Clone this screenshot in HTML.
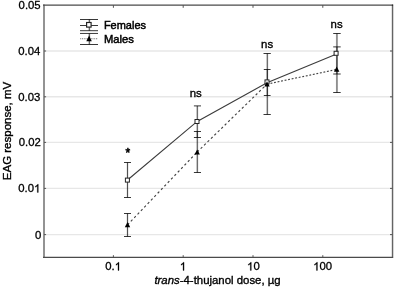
<!DOCTYPE html>
<html>
<head>
<meta charset="utf-8">
<title>EAG response chart</title>
<style>
html,body{margin:0;padding:0;background:#fff;}
body{width:394px;height:288px;overflow:hidden;}
svg{display:block;filter:grayscale(1);}
text{font-family:"Liberation Sans",sans-serif;font-size:11.35px;fill:#000;stroke:#000;stroke-width:0.35px;}
.ns{font-size:11.4px;}
.tk text{stroke-width:0.3px;}
</style>
</head>
<body>
<svg width="394" height="288" viewBox="0 0 394 288">
<defs><path id="one" d="M759 0H579V1147C536 1106 479 1065 409 1024C339 983 276 952 220 932V1106C320 1153 408 1210 483 1277C558 1344 611 1409 642 1472H759Z"/></defs>
<rect x="0" y="0" width="394" height="288" fill="#fff"/>
<!-- gridlines -->
<g stroke="#e7e7e7" stroke-width="1.4" fill="none">
<line x1="45" y1="51" x2="392" y2="51"/>
<line x1="45" y1="96.8" x2="392" y2="96.8"/>
<line x1="45" y1="142.4" x2="392" y2="142.4"/>
<line x1="45" y1="188.4" x2="392" y2="188.4"/>
<line x1="45" y1="234.6" x2="392" y2="234.6"/>
</g>
<!-- frame -->
<g stroke="#4a4a4a" fill="none">
<line x1="44" y1="4.5" x2="44" y2="257.5" stroke="#939393" stroke-width="2"/>
<line x1="43" y1="5.1" x2="393.1" y2="5.1" stroke-width="1.3"/>
<line x1="392.55" y1="4.5" x2="392.55" y2="257.8" stroke="#000" stroke-opacity="0.18" stroke-width="2.4"/><line x1="392.55" y1="4.5" x2="392.55" y2="257.8" stroke="#000" stroke-opacity="0.55" stroke-width="1"/>
<line x1="43" y1="257.35" x2="393.1" y2="257.35" stroke-width="1.3"/>
</g>
<!-- ticks -->
<g stroke="#555" stroke-width="1" fill="none">
<line x1="113.4" y1="5" x2="113.4" y2="7.8"/>
<line x1="183.2" y1="5" x2="183.2" y2="7.8"/>
<line x1="253" y1="5" x2="253" y2="7.8"/>
<line x1="322.8" y1="5" x2="322.8" y2="7.8"/>
<line x1="113.4" y1="257" x2="113.4" y2="255.2"/>
<line x1="183.2" y1="257" x2="183.2" y2="255.2"/>
<line x1="253" y1="257" x2="253" y2="255.2"/>
<line x1="322.8" y1="257" x2="322.8" y2="255.2"/>
<line x1="44" y1="51" x2="46.1" y2="51"/>
<line x1="44" y1="96.8" x2="46.1" y2="96.8"/>
<line x1="44" y1="142.4" x2="46.1" y2="142.4"/>
<line x1="44" y1="188.4" x2="46.1" y2="188.4"/>
<line x1="44" y1="234.6" x2="46.1" y2="234.6"/>
<line x1="392.5" y1="51" x2="390" y2="51"/>
<line x1="392.5" y1="96.8" x2="390" y2="96.8"/>
<line x1="392.5" y1="142.4" x2="390" y2="142.4"/>
<line x1="392.5" y1="188.4" x2="390" y2="188.4"/>
<line x1="392.5" y1="234.6" x2="390" y2="234.6"/>
</g>
<!-- y tick labels -->
<g text-anchor="end" class="tk">
<text x="40.7" y="9.4">0.05</text>
<text x="40.4" y="55.3">0.04</text>
<text x="40.4" y="100.9">0.03</text>
<text x="40.8" y="146.3">0.02</text>
<text x="40.4" y="192.4">0.0<tspan visibility="hidden">1</tspan></text><use href="#one" transform="translate(34.09,192.40) scale(0.005542,-0.005542)" fill="#000" stroke="#000" stroke-width="54.1"/>
<text x="41.2" y="238.5">0</text>
</g>
<!-- x tick labels -->
<g text-anchor="middle" class="tk">
<text x="113.2" y="270.4">0.<tspan visibility="hidden">1</tspan></text><use href="#one" transform="translate(114.78,270.40) scale(0.005542,-0.005542)" fill="#000" stroke="#000" stroke-width="54.1"/>
<use href="#one" transform="translate(179.84,270.40) scale(0.005542,-0.005542)" fill="#000" stroke="#000" stroke-width="54.1"/>
<text x="253.4" y="270.4"><tspan visibility="hidden">1</tspan>0</text><use href="#one" transform="translate(247.09,270.40) scale(0.005542,-0.005542)" fill="#000" stroke="#000" stroke-width="54.1"/>
<text x="322.7" y="270.4"><tspan visibility="hidden">1</tspan>00</text><use href="#one" transform="translate(313.23,270.40) scale(0.005542,-0.005542)" fill="#000" stroke="#000" stroke-width="54.1"/>
</g>
<!-- axis titles -->
<text x="154.4" y="284.05" style="font-size:11.4px"><tspan font-style="italic">trans</tspan>-4-thujanol dose, µg</text>
<text transform="translate(10.7,180.2) rotate(-90)" style="font-size:11.5px">EAG response, mV</text>
<!-- series lines -->
<g stroke="#333" stroke-width="1" fill="none">
<polyline points="127.5,180 197.2,121.4 267,82.7 336.6,54" stroke="#3c3c3c" stroke-width="1.1"/>
<line x1="127.5" y1="224.8" x2="197.2" y2="152" stroke="#444" stroke-width="1.15" stroke-dasharray="2.3 2.55"/>
<line x1="197.2" y1="152" x2="267" y2="84.1" stroke="#444" stroke-width="1.15" stroke-dasharray="2.3 2.5"/>
<line x1="267" y1="84.1" x2="336.6" y2="69.5" stroke="#444" stroke-width="1.15" stroke-dasharray="1.9 1.7"/>
</g>
<!-- error bars -->
<g fill="none" stroke="#000">
<path d="M127.5 162.5V197.5M197.3 105.9V137.5M267.3 69.5V95.5M336.95 33.5V74M127.5 213.5V236.5M197.3 131.5V172.5M267.3 53.5V114.5M336.95 46.9V92.5" stroke-width="2.2" stroke-opacity="0.13"/>
<path d="M127.5 162.5V197.5M197.3 105.9V137.5M267.3 69.5V95.5M336.95 33.5V74M127.5 213.5V236.5M197.3 131.5V172.5M267.3 53.5V114.5M336.95 46.9V92.5" stroke-width="1" stroke-opacity="0.64"/>
<path d="M124 162.5H131M124 197.5H131M193.9 105.9H201M193.9 137.5H201M263.8 69.5H270.6M263.8 95.5H270.6M333.2 33.5H340.7M333.2 74H340.7M124 213.5H131M124 236.5H131M193.9 131.5H201M193.9 172.5H201M263.5 53.5H270.8M263.5 114.5H270.8M333.2 46.9H340.7M333.2 92.5H340.7" stroke-width="1" stroke-opacity="0.78"/>
</g>
<!-- markers -->
<g stroke="#222" stroke-width="1" fill="#fff">
<rect x="125.4" y="178.1" width="4" height="4"/>
<rect x="195" y="119.5" width="4" height="4"/>
<rect x="265" y="79.9" width="4" height="4"/>
<rect x="334.1" y="51.3" width="4" height="4"/>
</g>
<g fill="#000" stroke="none">
<path d="M127.5 221.9L130.2 227.2H124.8Z"/>
<path d="M197.2 149.4L199.9 154.5H194.5Z"/>
<path d="M267 81.3L269.7 86.5H264.3Z"/>
<path d="M336.7 66.5L339.4 71.7H334Z"/>
</g>
<!-- significance labels -->
<g text-anchor="middle">
<text class="ns" x="195.8" y="97.1">ns</text>
<text class="ns" x="267.1" y="48">ns</text>
<text class="ns" x="336.6" y="28.3">ns</text>
<text x="127.9" y="156.5" style="font-size:12px;stroke-width:0.55px">*</text>
</g>
<!-- legend -->
<g stroke="#000" fill="none">
<path d="M89.35 19.5V30.7M89.35 33.5V44.5" stroke-width="2.2" stroke-opacity="0.16"/>
<path d="M89.35 19.5V30.7M89.35 33.5V44.5" stroke-width="1" stroke-opacity="0.6"/>
<path d="M80 19.5H98M80 25.5H98M80 30.7H98M80 33.45H98M80 44.5H98" stroke-width="1" stroke-opacity="0.78"/>
<path d="M80.3 38.8H98" stroke-width="1.1" stroke-opacity="0.62" stroke-dasharray="0.9 0.85"/>
</g>
<rect x="86.6" y="22.5" width="4.5" height="4.6" fill="#fff" stroke="#222" stroke-width="1.15"/>
<path d="M89.1 35.4L91.8 41.2H86.3Z" fill="#000"/>
<text x="103.9" y="28.5" style="font-size:11.7px;stroke-width:0.5px" textLength="42.1" lengthAdjust="spacingAndGlyphs">Females</text>
<text x="103.9" y="42.55" style="font-size:11.7px;stroke-width:0.5px" textLength="29.9" lengthAdjust="spacingAndGlyphs">Males</text>
</svg>
</body>
</html>
